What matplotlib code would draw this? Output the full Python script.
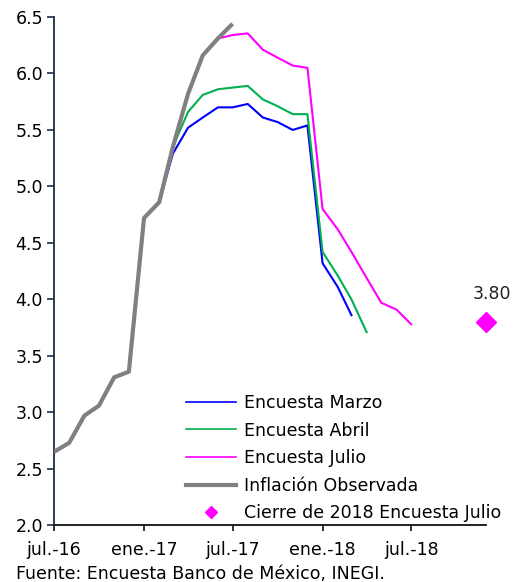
import numpy as np
import matplotlib
matplotlib.use("Agg")
import matplotlib.pyplot as plt
from matplotlib.lines import Line2D

plt.rcParams['font.family'] = ['DejaVu Sans']

# ---- data ----
obs_start = "2016-07"
obs_values = [2.65, 2.73, 2.97, 3.06, 3.31, 3.36, 4.72, 4.86, 5.35, 5.82, 6.16, 6.31, 6.44]

marzo_start = "2017-02"
marzo_values = [4.86, 5.29, 5.52, 5.61, 5.70, 5.70, 5.73, 5.61, 5.57, 5.50, 5.54, 4.32, 4.11, 3.86]

abril_start = "2017-03"
abril_values = [5.35, 5.66, 5.81, 5.86, 5.875, 5.89, 5.77, 5.71, 5.64, 5.64, 4.42, 4.21, 4.00, 3.71]

julio_start = "2017-06"
julio_values = [6.31, 6.34, 6.355, 6.21, 6.14, 6.07, 6.05, 4.80, 4.62, 4.42, 4.19, 3.97, 3.91, 3.78]

cierre_date = "2018-12"
cierre_value = 3.80
cierre_label = "3.80"

tick_dates = ["2016-07", "2017-01", "2017-07", "2018-01", "2018-07"]
tick_labels = ["jul.-16", "ene.-17", "jul.-17", "ene.-18", "jul.-18"]

labels = ["Encuesta Marzo", "Encuesta Abril", "Encuesta Julio",
          "Inflación Observada", "Cierre de 2018 Encuesta Julio"]
source = "Fuente: Encuesta Banco de México, INEGI."


def months(start, n):
    return np.arange(np.datetime64(start, 'M'), np.datetime64(start, 'M') + n).astype('datetime64[D]')


W, H = 513, 582
fig = plt.figure(figsize=(W / 100, H / 100), dpi=100)
ax = fig.add_axes([54 / W, 1 - 525.3 / H, (486 - 54) / W, (525.3 - 17) / H])

FS = 12.5

ax.plot(months(marzo_start, len(marzo_values)), marzo_values, color='#0000FF', lw=1.5, zorder=3)
ax.plot(months(abril_start, len(abril_values)), abril_values, color='#00B050', lw=1.5, zorder=3)
ax.plot(months(julio_start, len(julio_values)), julio_values, color='#FF00FF', lw=1.5, zorder=3)
ax.plot(months(obs_start, len(obs_values)), obs_values, color='#808080', lw=3.0,
        solid_capstyle='butt', zorder=4)
cd = np.datetime64(cierre_date, 'M').astype('datetime64[D]')
ax.plot([cd], [cierre_value], marker='D', ms=10.5, color='#FF00FF', ls='none', clip_on=False, zorder=5)
ax.annotate(cierre_label, (cd, cierre_value), xytext=(4, 14), textcoords='offset points',
            ha='center', va='bottom', fontsize=FS, color='#222222')

ax.set_xlim(np.datetime64("2016-07-01"), np.datetime64("2018-12-01"))
ax.set_ylim(2.0, 6.5)
ax.set_yticks(np.arange(2.0, 6.51, 0.5))
ax.set_yticklabels([f"{v:.1f}" for v in np.arange(2.0, 6.51, 0.5)])
ax.set_xticks([np.datetime64(d, 'M').astype('datetime64[D]') for d in tick_dates])
ax.set_xticklabels(tick_labels)

for s in ['top', 'right']:
    ax.spines[s].set_visible(False)
ax.spines['left'].set_color('#1F2D4D')
ax.spines['bottom'].set_color('#111111')
ax.spines['left'].set_linewidth(1.3)
ax.spines['bottom'].set_linewidth(1.3)
ax.tick_params(axis='y', direction='out', length=5, width=1.2, color='#1F2D4D', pad=3, labelsize=FS)
ax.tick_params(axis='x', direction='out', length=4, width=1.2, color='#111111', pad=7, labelsize=FS)

handles = [Line2D([], [], color='#0000FF', lw=1.2),
           Line2D([], [], color='#00B050', lw=1.2),
           Line2D([], [], color='#FF00FF', lw=1.2),
           Line2D([], [], color='#808080', lw=3.0),
           Line2D([], [], color='#FF00FF', marker='D', ms=6, ls='none')]
fig.legend(handles, labels, loc='upper left', bbox_to_anchor=(186 / W, 1 - 394 / H),
           frameon=False, fontsize=FS, handlelength=2.9, handletextpad=0.45,
           labelspacing=0.55, borderpad=0, borderaxespad=0)

fig.text(16 / W, 1 - 574 / H, source, ha='left', va='center', fontsize=FS)

fig.savefig("out.png", dpi=100)
